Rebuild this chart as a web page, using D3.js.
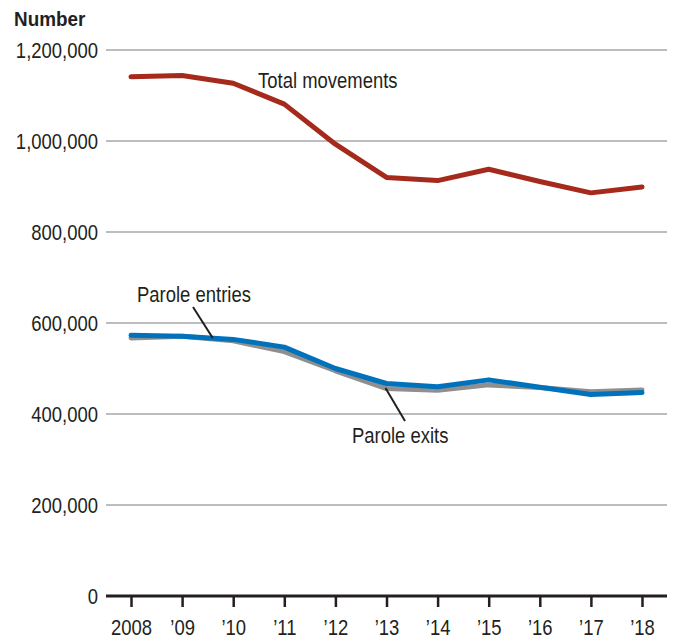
<!DOCTYPE html>
<html>
<head>
<meta charset="utf-8">
<script src="https://cdn.jsdelivr.net/npm/d3@7"></script>
<style>
  body { margin: 0; background: #fff; }
  svg { font-family: "Liberation Sans", Arial, sans-serif; }
</style>
</head>
<body>
<div id="chart"></div>
<script>
const years = [2008, 2009, 2010, 2011, 2012, 2013, 2014, 2015, 2016, 2017, 2018];
const yearLabels = ["2008", "\u201909", "\u201910", "\u201911", "\u201912", "\u201913", "\u201914", "\u201915", "\u201916", "\u201917", "\u201918"];
const totalMovements = [1141000, 1144000, 1127000, 1081000, 993000, 920000, 913000, 938000, 911000, 886000, 899000];
const paroleEntries = [573000, 571000, 564000, 547000, 500000, 467000, 460000, 475000, 459000, 443000, 447000];
const paroleExits = [567000, 571000, 561000, 537000, 495000, 456000, 452000, 464000, 458000, 449000, 453000];
const yTicks = [0, 200000, 400000, 600000, 800000, 1000000, 1200000];

const width = 674, height = 639;
const margin = { top: 50, right: 7, bottom: 43, left: 106 };
const squeeze = 0.84; // narrow the font to mimic a condensed face

const svg = d3.select("#chart").append("svg")
    .attr("width", width)
    .attr("height", height);

const x = d3.scaleLinear()
    .domain([2008, 2018])
    .range([131, 642]);

const y = d3.scaleLinear()
    .domain([0, 1200000])
    .range([height - margin.bottom, margin.top]);

const textColor = "#231f20";

function addText(tx, ty, t, anchor = "start", size = 22, weight = "normal", sx = squeeze) {
    return svg.append("text")
        .attr("transform", `translate(${tx},${ty}) scale(${sx},1)`)
        .attr("text-anchor", anchor)
        .attr("fill", textColor)
        .style("font-size", size + "px")
        .style("font-weight", weight)
        .text(t);
}

// gridlines
svg.append("g")
    .selectAll("line")
    .data(yTicks.filter(d => d > 0))
    .join("line")
    .attr("x1", margin.left)
    .attr("x2", width - margin.right)
    .attr("y1", d => y(d))
    .attr("y2", d => y(d))
    .attr("stroke", "#a7a7a7")
    .attr("stroke-width", 1.5);

// y labels
yTicks.forEach(d => addText(98, y(d) + 8, d3.format(",")(d), "end"));

addText(14, 26, "Number", "start", 21, "bold", 0.9);

// x axis
const xAxis = d3.axisBottom(x)
    .tickValues(years)
    .tickSize(11)
    .tickFormat((d, i) => yearLabels[i]);

const gx = svg.append("g")
    .attr("transform", `translate(0,${y(0)})`)
    .call(xAxis);
gx.select(".domain").remove();
gx.selectAll(".tick line").attr("stroke", textColor).attr("stroke-width", 2.5);
gx.selectAll(".tick text")
    .attr("fill", textColor)
    .attr("dy", 0)
    .attr("y", 39)
    .attr("transform", `scale(${squeeze},1)`)
    .style("font-family", "Liberation Sans, Arial, sans-serif")
    .style("font-size", "22px");

svg.append("line")
    .attr("x1", margin.left)
    .attr("x2", width - margin.right)
    .attr("y1", y(0))
    .attr("y2", y(0))
    .attr("stroke", textColor)
    .attr("stroke-width", 3);

// lines
const line = d3.line()
    .x((d, i) => x(years[i]))
    .y(d => y(d));

const series = [
    { values: paroleExits, color: "#8f8f8f" },
    { values: paroleEntries, color: "#0072bc" },
    { values: totalMovements, color: "#a52a1c" }
];

svg.append("g")
    .selectAll("path")
    .data(series)
    .join("path")
    .attr("d", d => line(d.values))
    .attr("fill", "none")
    .attr("stroke", d => d.color)
    .attr("stroke-width", 5)
    .attr("stroke-linejoin", "round")
    .attr("stroke-linecap", "round");

// annotations
addText(258, 88, "Total movements");
addText(137, 302, "Parole entries");
addText(352, 443, "Parole exits");

const leader = (x1, y1, x2, y2) => svg.append("line")
    .attr("x1", x1).attr("y1", y1).attr("x2", x2).attr("y2", y2)
    .attr("stroke", textColor)
    .attr("stroke-width", 2);

leader(193, 307, x(2009.6), y(567000));
leader(x(2012.98), y(457000), 405, 421);
</script>
</body>
</html>
